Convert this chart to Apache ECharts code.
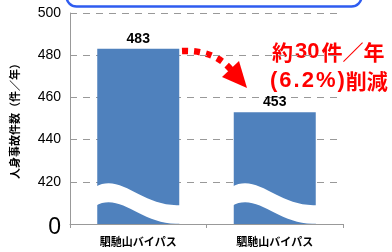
<!DOCTYPE html>
<html>
<head>
<meta charset="utf-8">
<script src="https://cdn.jsdelivr.net/npm/echarts@6/dist/echarts.min.js"></script>
<style>
  html, body { margin: 0; padding: 0; background: #fff; }
  #chart { width: 392px; height: 252px; }
</style>
</head>
<body>
<div id="chart"></div>
<script>
  // 整備前後の人身事故件数
  var categories = ['駟馳山バイパス', '駟馳山バイパス'],
      values = [483, 453],
      yMin = 400, // 波線で省略した軸の下端（"0"と表示）
      yMax = 500,
      yStep = 20;

  var chart = echarts.init(document.getElementById('chart'));

  // 棒の下側を省略する白い波線
  function renderWave(params, api) {
    var bottom = api.coord([api.value(0), yMin]);
    var w = 84, x0 = bottom[0] - w / 2, x1 = bottom[0] + w / 2, yb = bottom[1];
    var d = 19;
    var path =
      'M' + (x0 - 1) + ' ' + (yb - 37) +
      ' C' + (x0 + 0.3 * w) + ' ' + (yb - 52) + ' ' + (x0 + 0.55 * w) + ' ' + (yb - 16) + ' ' + (x1 + 1) + ' ' + (yb - 19) +
      ' L' + (x1 + 1) + ' ' + (yb - 0.5) +
      ' C' + (x0 + 0.55 * w) + ' ' + (yb - 16 + d) + ' ' + (x0 + 0.3 * w) + ' ' + (yb - 52 + d) + ' ' + (x0 - 1) + ' ' + (yb - 37 + d) +
      ' Z';
    return { type: 'path', shape: { pathData: path }, style: { fill: '#fff' } };
  }

  // 注記の文字（数字は少し広めに）
  var noteRich = {
    k: { fontSize: 21, fontWeight: 'bold', fill: '#ff0000', fontFamily: 'Noto Sans CJK JP' },
    n: { fontSize: 22, fontWeight: 'bold', fill: '#ff0000', fontFamily: 'Liberation Sans', padding: [0, 2, 0, 2] },
    m: { fontSize: 22, fontWeight: 'bold', fill: '#ff0000', fontFamily: 'Liberation Sans', padding: [0, 1, 0, 1] }
  };

  chart.setOption({
    animation: false,
    grid: { left: 70, right: 49, top: 13, bottom: 28 },
    xAxis: {
      type: 'category',
      data: categories,
      axisLine: { lineStyle: { color: '#999', width: 1 } },
      axisTick: { show: true, length: 4, lineStyle: { color: '#999' } },
      axisLabel: {
        color: '#000', fontSize: 11, fontWeight: 'bold', margin: 12,
        fontFamily: 'Noto Sans CJK JP'
      }
    },
    yAxis: {
      type: 'value',
      min: yMin,
      max: yMax,
      interval: yStep,
      name: '人身事故件数（件／年）',
      nameLocation: 'middle',
      nameGap: 50,
      nameRotate: 90,
      nameTextStyle: { color: '#000', fontSize: 11, fontWeight: 'bold', fontFamily: 'Noto Sans CJK JP' },
      axisLine: { show: true, lineStyle: { color: '#999' } },
      axisTick: { show: false },
      splitLine: { lineStyle: { color: '#999', type: [7, 6], width: 1.2 } },
      axisLabel: {
        color: '#000', fontSize: 14, margin: 9, fontFamily: 'Liberation Sans',
        formatter: function (v) { return v === yMin ? '{z|0}' : String(v); },
        rich: { z: { fontSize: 23, fontFamily: 'Liberation Sans', padding: [8, 0, 0, 0] } }
      }
    },
    series: [
      {
        type: 'bar',
        data: values,
        barWidth: 82,
        itemStyle: { color: '#4f81bd' },
        label: {
          show: true, position: 'top', distance: 3,
          color: '#000', fontSize: 14, fontWeight: 'bold', fontFamily: 'Liberation Sans'
        }
      },
      {
        type: 'custom',
        silent: true,
        clip: true,
        renderItem: renderWave,
        encode: { x: 0, y: 1 },
        data: values.map(function (v, i) { return [i, v]; }),
        z: 5
      }
    ],
    graphic: [
      // 上部の吹き出し枠（下端のみ見える）
      {
        type: 'rect', left: 64, top: -30,
        shape: { width: 295, height: 34, r: 10 },
        style: { fill: 'none', stroke: '#2f5cf0', lineWidth: 2.5 }
      },
      // 減少を示す点線の矢印
      {
        type: 'bezierCurve',
        shape: { x1: 182, y1: 51, cpx1: 205, cpy1: 50, x2: 232, y2: 71, cpx2: 222, cpy2: 58 },
        style: { stroke: '#ff0000', lineWidth: 6.5, lineDash: [6, 6], fill: 'none' }
      },
      {
        type: 'polygon',
        shape: { points: [[222, 77], [239, 61], [247, 88]] },
        style: { fill: '#ff0000' }
      },
      {
        type: 'text', left: 272, top: 41,
        style: {
          text: '{k|約}{n|30}{k|件／年}', rich: noteRich
        }
      },
      {
        type: 'text', left: 270, top: 70,
        style: {
          text: '{m|(}{m|6}{m|.}{m|2}{m|%}{m|)}{k|削減}', rich: noteRich
        }
      }
    ]
  });
</script>
</body>
</html>
